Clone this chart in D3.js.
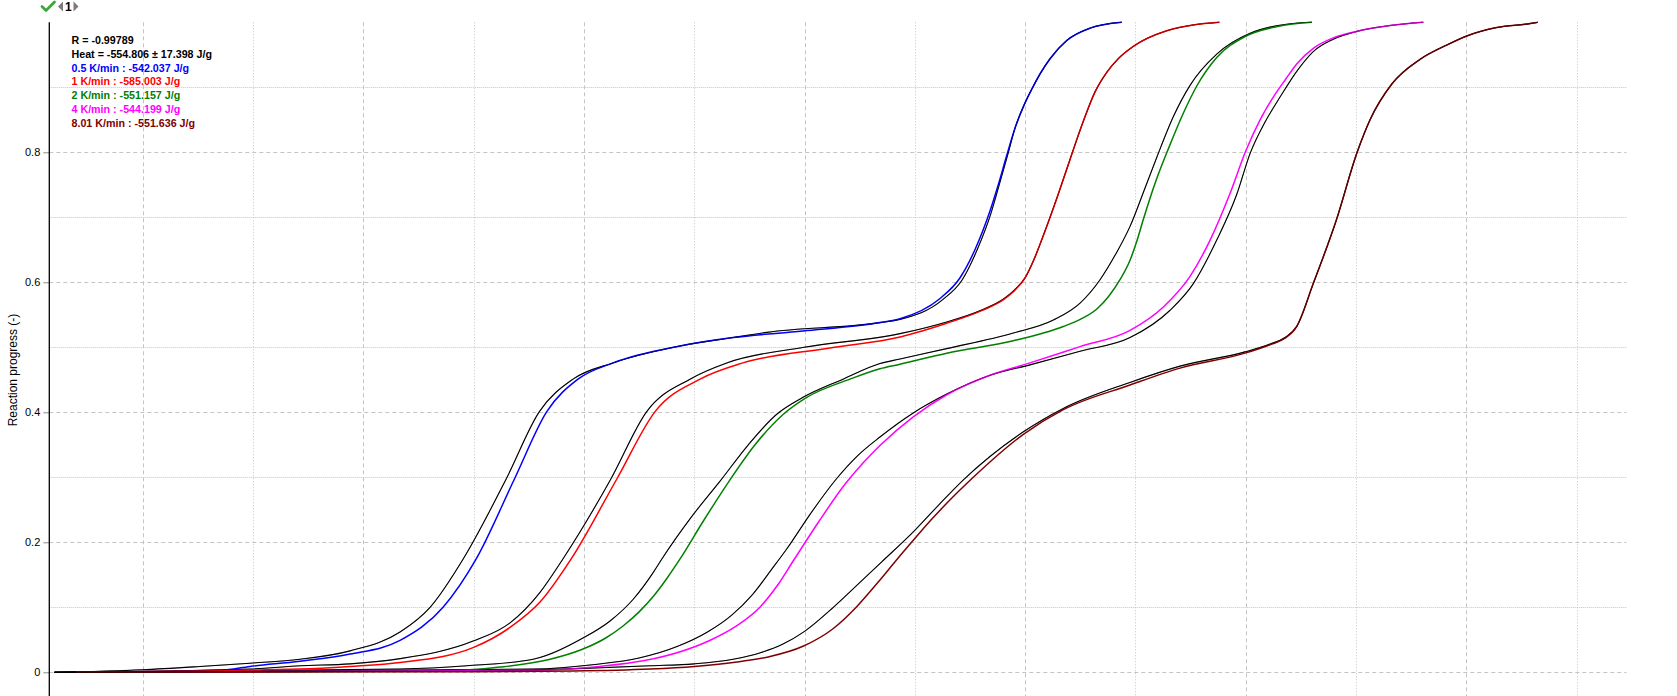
<!DOCTYPE html>
<html>
<head>
<meta charset="utf-8">
<script src="https://cdn.jsdelivr.net/npm/d3@7/dist/d3.min.js"></script>
<style>
  html, body { margin: 0; padding: 0; background: #ffffff; }
  svg { display: block; }
</style>
</head>
<body>
<svg id="chart" width="1677" height="696"></svg>
<script>
// ---------- DATA (temperature, reaction progress) ----------
const yTickValues = [0, 0.2, 0.4, 0.6, 0.8];
const yMinorValues = [0.1, 0.3, 0.5, 0.7, 0.9];
const xGridValues = [60, 70, 80, 90, 100, 110, 120, 130, 140, 150, 160, 170, 180, 190];

const meas05 = [[54,0],[67.1,0.003],[69.73,0.009],[74.26,0.017],[78.8,0.028],[83.33,0.049],[87.23,0.1],[90.22,0.174],[93.69,0.297],[96.63,0.401],[99.46,0.451],[102.64,0.476],[108.71,0.502],[113.52,0.515],[119.86,0.525],[126.84,0.538],[128.66,0.544],[132.2,0.574],[134.1,0.607],[135.5,0.652],[136.82,0.71],[137.6,0.752],[138.33,0.795],[139.1,0.838],[139.99,0.876],[140.6,0.897],[141.4,0.922],[142.26,0.944],[143.77,0.972],[145.88,0.991],[148.76,1.0]];
const fit05 = [[52,0],[60,0.004],[65.19,0.009],[69.73,0.014],[74.26,0.02],[78.8,0.033],[83.33,0.062],[86.05,0.1],[89.04,0.174],[92.94,0.297],[95.96,0.401],[99.01,0.451],[102.64,0.476],[108.71,0.502],[113.52,0.515],[116.6,0.523],[126.84,0.538],[128.66,0.543],[132.5,0.573],[134.3,0.604],[135.65,0.65],[136.9,0.706],[137.65,0.75],[138.4,0.795],[139.1,0.838],[139.99,0.876],[140.6,0.897],[141.4,0.922],[142.26,0.944],[143.77,0.972],[145.88,0.991],[148.76,1.0]];

const meas1 = [[54,0],[74.26,0.005],[78.8,0.009],[83.33,0.015],[89.95,0.038],[93.3,0.069],[96.02,0.108],[98.83,0.174],[102.97,0.297],[106.45,0.401],[110.53,0.451],[114.42,0.476],[122.31,0.499],[128.66,0.516],[132.89,0.537],[136.0,0.556],[138.1,0.574],[139.2,0.59],[140.0,0.607],[140.8,0.635],[141.65,0.672],[143.01,0.736],[144.07,0.789],[145.28,0.848],[146.34,0.893],[147.4,0.923],[148.5,0.945],[149.81,0.963],[152.84,0.987],[157.61,1.0]];
const fit1 = [[52,0],[69.73,0.005],[74.26,0.01],[78.8,0.013],[83.33,0.021],[89.95,0.048],[93.3,0.076],[96.02,0.123],[98.08,0.174],[102.43,0.297],[105.69,0.401],[109.62,0.451],[112.95,0.476],[119.95,0.5],[128.66,0.521],[132.89,0.539],[136.0,0.557],[138.1,0.575],[139.2,0.591],[140.0,0.607],[140.8,0.635],[141.65,0.672],[143.01,0.736],[144.07,0.789],[145.28,0.848],[146.34,0.893],[147.4,0.923],[148.5,0.945],[149.81,0.963],[152.84,0.987],[157.61,1.0]];

const meas2 = [[54,0],[87.23,0.002],[92.39,0.008],[96.93,0.02],[99.8,0.035],[101.9,0.052],[103.6,0.072],[105.0,0.093],[106.3,0.117],[107.5,0.144],[108.7,0.174],[110.8,0.232],[113.0,0.29],[115.6,0.352],[118.08,0.397],[120.2,0.423],[124.12,0.451],[126.84,0.467],[128.66,0.474],[132.89,0.491],[138.93,0.51],[143.46,0.532],[145.0,0.543],[146.5,0.559],[147.6,0.579],[148.6,0.604],[149.51,0.634],[150.1,0.662],[150.72,0.697],[151.9,0.758],[153.0,0.806],[154.34,0.86],[155.56,0.902],[157.37,0.946],[159.93,0.978],[163.0,0.994],[166.0,1.0]];
const fit2 = [[52,0],[83.33,0.005],[89.37,0.01],[95.39,0.02],[99.95,0.053],[102.37,0.079],[104.45,0.112],[106.26,0.153],[107.05,0.174],[109.7,0.238],[112.34,0.294],[114.9,0.35],[117.48,0.397],[119.86,0.423],[123.49,0.451],[126.84,0.475],[128.66,0.482],[132.89,0.498],[138.93,0.522],[142.56,0.542],[144.98,0.568],[146.79,0.604],[148.2,0.643],[149.51,0.686],[150.87,0.745],[151.93,0.792],[153.44,0.855],[154.95,0.903],[157.37,0.951],[160.39,0.983],[164.77,0.999],[166.0,1.0]];

const meas4 = [[54,0],[95.84,0.003],[101.46,0.009],[105.5,0.018],[108.8,0.032],[111.4,0.049],[113.8,0.071],[116.0,0.101],[117.6,0.135],[119.0,0.172],[121.3,0.232],[123.7,0.29],[125.3,0.322],[126.84,0.349],[129.86,0.393],[132.89,0.427],[136.82,0.457],[140.44,0.476],[144.98,0.501],[149.51,0.526],[152.53,0.562],[154.95,0.609],[156.77,0.665],[158.58,0.737],[160.0,0.802],[161.3,0.85],[162.5,0.885],[163.6,0.912],[164.62,0.936],[166.12,0.96],[167.94,0.976],[170.06,0.986],[173.08,0.995],[176.1,1.0]];
const fit4 = [[52,0],[95.39,0.005],[101.0,0.012],[105.0,0.022],[108.5,0.04],[111.2,0.062],[113.4,0.088],[115.3,0.12],[117.0,0.158],[118.4,0.19],[120.5,0.243],[122.86,0.297],[124.8,0.333],[126.84,0.362],[129.86,0.399],[132.89,0.428],[136.82,0.457],[140.44,0.473],[144.98,0.494],[149.51,0.515],[153.14,0.557],[155.25,0.598],[157.37,0.665],[159.18,0.735],[160.39,0.798],[161.7,0.845],[163.11,0.885],[164.77,0.928],[166.12,0.955],[167.94,0.974],[170.06,0.986],[173.08,0.995],[176.1,1.0]];

const meas8 = [[54,0],[89.83,0.001],[99.01,0.002],[105.99,0.005],[110.0,0.009],[113.52,0.015],[116.8,0.024],[119.86,0.04],[122.58,0.067],[124.73,0.101],[126.84,0.142],[128.3,0.172],[129.86,0.203],[131.4,0.233],[132.89,0.26],[135.3,0.3],[139.84,0.366],[143.46,0.404],[149.51,0.442],[154.04,0.468],[159.93,0.491],[162.2,0.504],[163.56,0.514],[164.62,0.532],[166.12,0.598],[168.2,0.695],[170.1,0.8],[171.27,0.85],[173.24,0.905],[175.8,0.943],[178.22,0.965],[180.04,0.979],[182.76,0.992],[185.77,0.998],[186.47,1.0]];
const fit8 = [[52,0],[90,0.002],[99.95,0.006],[105.99,0.01],[110.0,0.013],[113.52,0.02],[116.0,0.03],[118.0,0.043],[120.0,0.063],[122.61,0.1],[125.0,0.138],[127.0,0.17],[129.86,0.216],[132.2,0.258],[134.4,0.296],[139.84,0.37],[143.46,0.406],[149.51,0.446],[154.04,0.471],[159.93,0.493],[162.2,0.505],[163.56,0.515],[164.62,0.532],[166.12,0.598],[168.2,0.695],[170.1,0.8],[171.27,0.85],[173.24,0.905],[175.8,0.943],[178.22,0.965],[180.04,0.979],[182.76,0.992],[185.77,0.998],[186.47,1.0]];

const seriesNames = ["0.5 K/min", "1 K/min", "2 K/min", "4 K/min", "8.01 K/min"];
const seriesHeats = ["-542.037 J/g", "-585.003 J/g", "-551.157 J/g", "-544.199 J/g", "-551.636 J/g"];
const seriesColors = ["#0000ff", "#ff0000", "#008000", "#ff00ff", "#800000"];
const measured = [meas05, meas1, meas2, meas4, meas8];
const fitted = [fit05, fit1, fit2, fit4, fit8];
const headerLines = ["R = -0.99789", "Heat = -554.806 \u00b1 17.398 J/g"];
const yLabel = "Reaction progress (-)";

// ---------- CHART ----------
(function () {
const svg = d3.select("#chart");
svg.append("rect").attr("width", 1677).attr("height", 696).attr("fill", "#ffffff");

const pLeft = 49.3, pRight = 1626.5, pTop = 22.3, pZero = 672.3;
const x = d3.scaleLinear().domain([51.53, 194.52]).range([pLeft, pRight]);
const y = d3.scaleLinear().domain([0, 1]).range([pZero, pTop]);

const gridColor = "#c4c4c4";
svg.append("g").selectAll("line").data(xGridValues).join("line")
  .attr("x1", d => Math.round(x(d)) + 0.5).attr("x2", d => Math.round(x(d)) + 0.5)
  .attr("y1", pTop).attr("y2", 696)
  .attr("stroke", gridColor).attr("stroke-width", 1)
  .attr("stroke-dasharray", d => d % 20 === 0 ? "4,3" : "1,2");
svg.append("g").selectAll("line").data(yTickValues.concat(yMinorValues)).join("line")
  .attr("x1", pLeft).attr("x2", pRight)
  .attr("y1", d => Math.round(y(d)) + 0.5).attr("y2", d => Math.round(y(d)) + 0.5)
  .attr("stroke", gridColor).attr("stroke-width", 1)
  .attr("stroke-dasharray", d => yTickValues.includes(d) ? "4,3" : "1,1");

const yAxis = d3.axisLeft(y).tickValues(yTickValues)
  .tickFormat(d => d === 0 ? "0" : d3.format(".1f")(d))
  .tickSize(6).tickPadding(3);
const ga = svg.append("g").attr("transform", `translate(${pLeft},0)`).call(yAxis);
ga.select(".domain").remove();
ga.selectAll(".tick line").attr("stroke", "#8c8c8c");
ga.selectAll(".tick text").attr("font-family", "'Liberation Sans', Arial, sans-serif")
  .attr("font-size", 11).attr("fill", "#000");
svg.append("line").attr("x1", pLeft).attr("x2", pLeft).attr("y1", pTop).attr("y2", 696)
  .attr("stroke", "#000").attr("stroke-width", 1.3);

svg.append("text").attr("transform", "translate(17,370) rotate(-90)")
  .attr("text-anchor", "middle").attr("font-family", "'Liberation Sans', Arial, sans-serif")
  .attr("font-size", 12).attr("fill", "#000").text(yLabel);

const line = d3.line().x(d => x(d[0])).y(d => y(d[1])).curve(d3.curveMonotoneX);
const gc = svg.append("g").attr("fill", "none");
fitted.forEach(s => {
  gc.append("path").attr("d", line(s)).attr("stroke", "#000").attr("stroke-width", 1.1);
});
measured.forEach((s, i) => {
  gc.append("path").attr("d", line(s)).attr("stroke", seriesColors[i]).attr("stroke-width", 1.5);
});
fitted.forEach(s => {
  gc.append("path").attr("d", line(s)).attr("stroke", "#000").attr("stroke-width", 0.6)
    .attr("stroke-opacity", 0.55);
});

const lg = svg.append("g").attr("font-family", "'Liberation Sans', Arial, sans-serif")
  .attr("font-size", 10.7).attr("font-weight", "bold");
const legendRows = headerLines.map(t => ({t, c: "#000"}))
  .concat(seriesNames.map((n, i) => ({t: `${n} : ${seriesHeats[i]}`, c: seriesColors[i]})));
lg.selectAll("text").data(legendRows).join("text")
  .attr("x", 71.5).attr("y", (d, i) => 44 + i * 13.75)
  .attr("fill", d => d.c).text(d => d.t);

const ic = svg.append("g");
ic.append("path").attr("d", "M42,6.5 L46,10.5 L54.5,2").attr("fill", "none")
  .attr("stroke", "#3aa83a").attr("stroke-width", 2.8).attr("stroke-linecap", "round")
  .attr("stroke-linejoin", "round");
ic.append("path").attr("d", "M58,6.5 L63,1.5 L63,11.5 Z").attr("fill", "#7a7a7a");
ic.append("text").attr("x", 68.3).attr("y", 11.3).attr("text-anchor", "middle")
  .attr("font-family", "'Liberation Sans', Arial, sans-serif").attr("font-size", 12)
  .attr("font-weight", "bold").attr("fill", "#000").text("1");
ic.append("path").attr("d", "M73.5,1.5 L78.5,6.5 L73.5,11.5 Z").attr("fill", "#7a7a7a");
})();
</script>
</body>
</html>
